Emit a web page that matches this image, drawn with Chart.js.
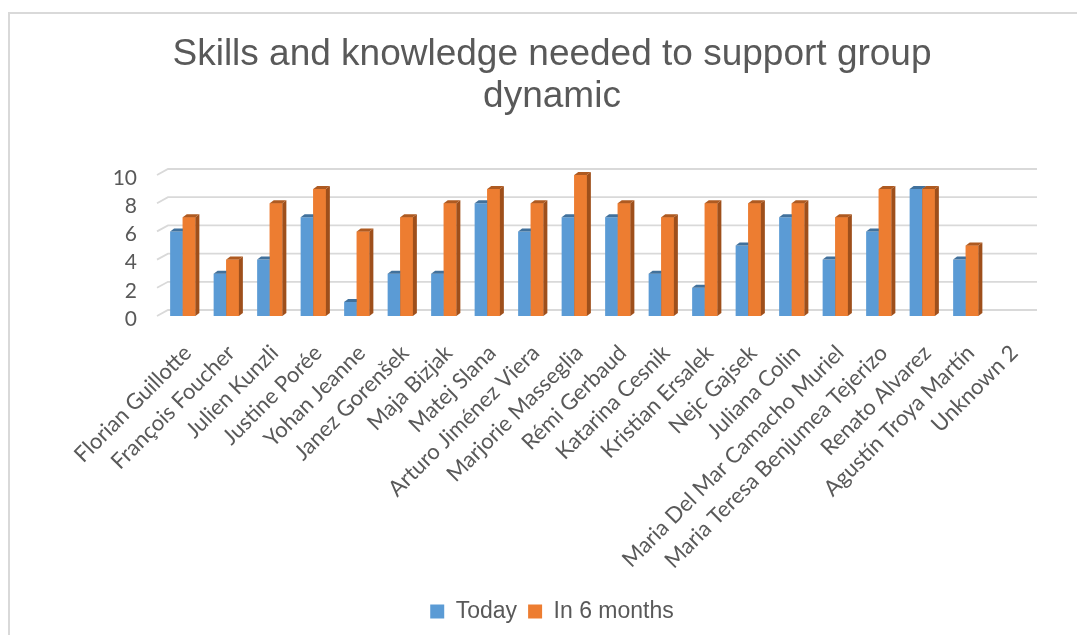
<!DOCTYPE html>
<html>
<head>
<meta charset="utf-8">
<script src="https://cdn.jsdelivr.net/npm/chart.js@4"></script>
<style>
  body { margin: 0; background: #fff; }
  #frame { position: absolute; left: 8px; top: 12px; width: 2000px; height: 2000px; border: 2px solid #d9d9d9; }
  #myChart { position: absolute; left: 0; top: 0; }
</style>
</head>
<body>
<div id="frame"></div>
<canvas id="myChart" width="1077" height="635"></canvas>
<script>
var categories = ["Florian Guillotte", "François Foucher", "Julien Kunzli", "Justine Porée", "Yohan Jeanne",
  "Janez Gorenšek", "Maja Bizjak", "Matej Slana", "Arturo Jiménez Viera", "Marjorie Masseglia",
  "Rémi Gerbaud", "Katarina Cesnik", "Kristian Ersalek", "Nejc Gajsek", "Juliana Colin",
  "Maria Del Mar Camacho Muriel", "Maria Teresa Benjumea Tejerizo", "Renato Alvarez", "Agustín Troya Martín", "Unknown 2"];
var today = [6, 3, 4, 7, 1, 3, 3, 8, 6, 7, 7, 3, 2, 5, 7, 4, 6, 9, 4, null];
var inSixMonths = [7, 4, 8, 9, 6, 7, 8, 9, 8, 10, 8, 7, 8, 8, 8, 7, 9, 9, 5, null];
var yTicks = [0, 2, 4, 6, 8, 10];

var grey = '#595959';

// rejilla con el efecto 3D (pared del fondo)
var gridPlugin = {
  id: 'grid3d',
  beforeDatasetsDraw: function(chart) {
    var ctx = chart.ctx;
    var area = chart.chartArea;
    var y = chart.scales.y;
    ctx.save();
    ctx.strokeStyle = '#d9d9d9';
    ctx.lineWidth = 1.8;
    y.ticks.forEach(function(t) {
      var py = y.getPixelForValue(t.value);
      ctx.beginPath();
      ctx.moveTo(area.left - 4, py);
      ctx.lineTo(area.left + 7, py - 6);
      ctx.lineTo(area.right + 6, py - 6);
      ctx.stroke();
    });
    ctx.restore();
  }
};

// caras superior y lateral de las barras
var facesPlugin = {
  id: 'faces3d',
  afterDatasetsDraw: function(chart) {
    var ctx = chart.ctx;
    var dx = 4, dy = 3;
    var tops = ['#41719c', '#ae5a21'];
    var sides = ['#3a6690', '#9e4f1b'];
    var metas = [chart.getDatasetMeta(0), chart.getDatasetMeta(1)];
    function faces(bar, d) {
      var p = bar.getProps(['x', 'y', 'width', 'base'], true);
      var x0 = p.x - p.width / 2, x1 = p.x + p.width / 2;
      ctx.fillStyle = sides[d];
      ctx.beginPath();
      ctx.moveTo(x1, p.y);
      ctx.lineTo(x1 + dx, p.y - dy);
      ctx.lineTo(x1 + dx, p.base - dy);
      ctx.lineTo(x1, p.base);
      ctx.closePath();
      ctx.fill();
      ctx.fillStyle = tops[d];
      ctx.beginPath();
      ctx.moveTo(x0, p.y);
      ctx.lineTo(x1, p.y);
      ctx.lineTo(x1 + dx, p.y - dy);
      ctx.lineTo(x0 + dx, p.y - dy);
      ctx.closePath();
      ctx.fill();
    }
    ctx.save();
    for (var i = 0; i < categories.length; i++) {
      if (today[i] !== null) faces(metas[0].data[i], 0);
      if (inSixMonths[i] !== null) {
        metas[1].data[i].draw(ctx);
        faces(metas[1].data[i], 1);
      }
    }
    ctx.restore();
  }
};

var ctx = document.getElementById('myChart').getContext('2d');
var myChart = new Chart(ctx, {
  type: 'bar',
  data: {
    labels: categories,
    datasets: [
      { label: 'Today', data: today, backgroundColor: '#5b9bd5', borderWidth: 0 },
      { label: 'In 6 months', data: inSixMonths, backgroundColor: '#ed7d31', borderWidth: 0 }
    ]
  },
  options: {
    responsive: false,
    animation: false,
    categoryPercentage: 0.58,
    barPercentage: 1.0,
    layout: { padding: { left: 73, right: 46, top: 0, bottom: 2 } },
    scales: {
      x: {
        grid: { display: false, drawTicks: false },
        border: { display: false },
        ticks: {
          autoSkip: false,
          minRotation: 45,
          maxRotation: 45,
          padding: 24,
          labelOffset: 5,
          color: grey,
          font: { family: 'Lato', size: 22 }
        },
        afterFit: function(scale) { scale.height = 273; }
      },
      y: {
        min: 0,
        max: 10,
        grid: { display: false, drawTicks: false },
        border: { display: false },
        afterBuildTicks: function(scale) {
          scale.ticks = yTicks.map(function(v) { return { value: v }; });
        },
        ticks: {
          padding: 24,
          labelOffset: 3,
          color: grey,
          font: { family: 'Lato', size: 21 }
        },
        afterFit: function(scale) { scale.width = 88; }
      }
    },
    plugins: {
      title: {
        display: true,
        text: ['Skills and knowledge needed to support group', 'dynamic'],
        color: grey,
        font: { family: "'Liberation Sans', Arial", size: 37, weight: 'normal', lineHeight: 1.135 },
        padding: { top: 34, bottom: 57 }
      },
      legend: {
        position: 'bottom',
        labels: {
          boxWidth: 14,
          boxHeight: 14,
          padding: 11,
          color: grey,
          font: { family: "'Liberation Sans', Arial", size: 23 }
        }
      },
      tooltip: { enabled: false }
    }
  },
  plugins: [gridPlugin, facesPlugin]
});
</script>
</body>
</html>
